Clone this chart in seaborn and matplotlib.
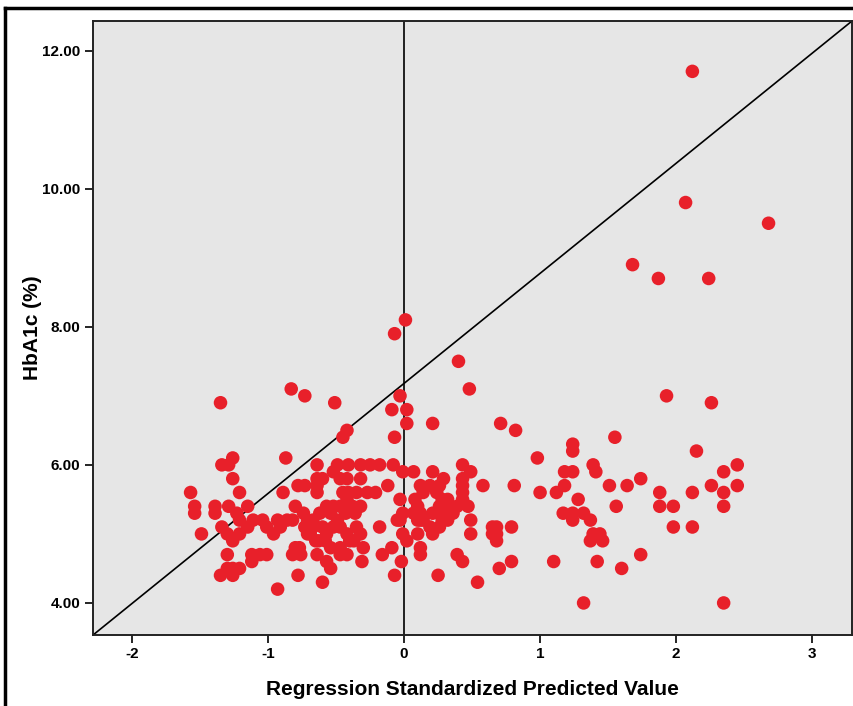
import seaborn as sns
import matplotlib.pyplot as plt
from matplotlib.lines import Line2D
from matplotlib.ticker import FormatStrFormatter

plt.rcParams['axes.unicode_minus'] = False

# standardized predicted value (x) and HbA1c (%) (y)
pred = [
    2.12,
    2.07,
    2.68,
    1.68,
    1.87, 2.24,
    0.01,
    -0.07,
    0.40,
    -0.83, 0.48,
    -0.73, -0.03, 1.93,
    -1.35, -0.51, 2.26,
    -0.09, 0.02,
    0.02, 0.21, 0.71,
    -0.42, 0.82,
    -0.45, -0.07, 1.55,
    1.24,
    1.24, 2.15,
    -1.26, -0.87, 0.98,
    -1.34, -1.29, -0.64, -0.49, -0.41, -0.32, -0.25, -0.18, -0.08, 0.43, 1.39, 2.45,
    -0.52, -0.01, 0.07, 0.21, 0.49, 1.18, 1.24, 1.41, 2.35,
    -1.26, -0.64, -0.60, -0.47, -0.42, -0.32, 0.29, 0.43, 1.74,
    -0.78, -0.73, -0.64, -0.12, 0.12, 0.19, 0.26, 0.43, 0.58, 0.81, 1.18, 1.51, 1.64, 2.26, 2.45,
    -1.57, -1.21, -0.89, -0.64, -0.45, -0.41, -0.35, -0.27, -0.21, 0.14, 0.24, 0.43, 1.00, 1.12, 1.88, 2.12, 2.35,
    -0.42, -0.03, 0.08, 0.28, 0.32, 0.43, 1.28,
    -1.54, -1.39, -1.29, -1.15, -0.80, -0.57, -0.52, -0.47, -0.38, -0.32, 0.10, 0.26, 0.34, 0.39, 0.47, 1.56, 1.88, 1.98, 2.35,
    -1.54, -1.39, -1.23, -0.74, -0.62, -0.54, -0.43, -0.36, -0.01, 0.07, 0.12, 0.21, 0.26, 0.34, 0.36, 1.17, 1.24, 1.32,
    -1.21, -1.11, -1.04, -0.93, -0.86, -0.82, -0.71, -0.67, -0.49, -0.05, -0.03, 0.10, 0.12, 0.14, 0.28, 0.32, 0.49, 1.24, 1.37,
    -1.34, -1.15, -1.01, -0.91, -0.73, -0.67, -0.60, -0.52, -0.47, -0.35, -0.18, 0.19, 0.26, 0.65, 0.68, 0.79, 1.98, 2.12,
    -1.49, -1.30, -1.21, -0.96, -0.71, -0.69, -0.57, -0.42, -0.32, -0.01, 0.10, 0.21, 0.49, 0.65, 0.68, 1.39, 1.44,
    -1.26, -0.65, -0.63, -0.58, -0.40, -0.37, 0.02, 0.68, 1.37, 1.46,
    -0.80, -0.77, -0.54, -0.47, -0.30, -0.09, 0.12,
    -1.30, -1.12, -1.06, -1.01, -0.82, -0.76, -0.64, -0.47, -0.42, -0.16, 0.12, 0.39, 1.74,
    -1.12, -0.57, -0.31, -0.02, 0.43, 0.79, 1.10, 1.42,
    -1.30, -1.26, -1.21, -0.54, 0.70, 1.60,
    -1.35, -1.26, -0.78, -0.07, 0.25,
    -0.60, 0.54,
    -0.93,
    1.32, 2.35,
]

# how many points sit on each HbA1c level (same order as pred)
levels = [11.7, 9.8, 9.5, 8.9, 8.7, 8.1, 7.9, 7.5, 7.1, 7.0, 6.9, 6.8, 6.6, 6.5, 6.4,
          6.3, 6.2, 6.1, 6.0, 5.9, 5.8, 5.7, 5.6, 5.5, 5.4, 5.3, 5.2, 5.1, 5.0,
          4.9, 4.8, 4.7, 4.6, 4.5, 4.4, 4.3, 4.2, 4.0]
counts = [1, 1, 1, 1, 2, 1, 1, 1, 2, 3, 3, 2, 3, 2, 3,
          1, 2, 3, 12, 9, 9, 15, 17, 7, 19, 18, 19, 18, 17,
          10, 7, 13, 8, 6, 5, 2, 1, 2]

hba1c = []
for lv, n in zip(levels, counts):
    hba1c += [lv] * n

fig = plt.figure(figsize=(8.54, 7.06), dpi=100)
ax = fig.add_axes([0.109, 0.1006, 0.8887, 0.8697])
ax.set_facecolor('#e6e6e6')

sns.scatterplot(x=pred, y=hba1c, ax=ax, color='#e8202a', s=95,
                edgecolor='none', zorder=3)

ax.set_xlim(-2.287, 3.294)
ax.set_ylim(3.536, 12.43)

# reference lines: x = 0 and corner-to-corner diagonal
ax.axvline(0, color='black', lw=1.2, zorder=2)
ax.axline((0, 0), (1, 1), transform=ax.transAxes, color='black', lw=1.2, zorder=2)

ax.set_xticks([-2, -1, 0, 1, 2, 3])
ax.set_yticks([4, 6, 8, 10, 12])
ax.yaxis.set_major_formatter(FormatStrFormatter('%.2f'))
ax.tick_params(direction='out', length=6, width=1.2, color='black',
               labelsize=11, pad=3)
for lab in ax.get_xticklabels() + ax.get_yticklabels():
    lab.set_fontweight('bold')
    lab.set_family('Liberation Sans')

for sp in ax.spines.values():
    sp.set_color('#222222')
    sp.set_linewidth(1.4)

ax.set_xlabel('Regression Standardized Predicted Value', fontsize=15,
              fontweight='bold', family='Liberation Sans', labelpad=13)
ax.set_ylabel('HbA1c (%)', fontsize=15, fontweight='bold',
              family='Liberation Sans')
ax.yaxis.set_label_coords(-0.067, 0.5)

# thick black frame of the original figure (left and top edges)
fig.add_artist(Line2D([0.006, 0.006], [0, 0.989], color='black', lw=2.5))
fig.add_artist(Line2D([0.006, 1], [0.989, 0.989], color='black', lw=2.5))

fig.savefig('out.png', dpi=100)
